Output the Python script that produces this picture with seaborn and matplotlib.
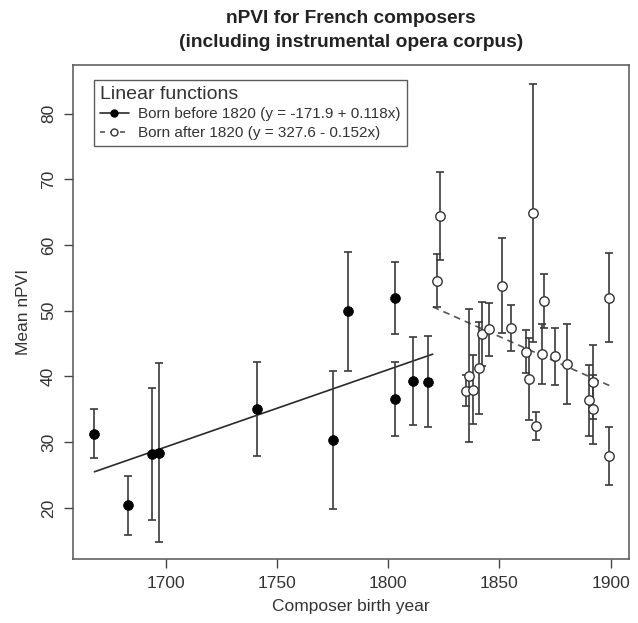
import numpy as np
import matplotlib
matplotlib.use("Agg")
import matplotlib.pyplot as plt
import seaborn as sns
from matplotlib.lines import Line2D

# Composers born before 1820 (mean nPVI and error half-width)
before_year = [1668, 1683, 1694, 1697, 1741, 1775, 1782, 1803, 1803, 1811, 1818]
before_mean = [31.3, 20.4, 28.2, 28.4, 35.0, 30.3, 49.9, 51.9, 36.6, 39.3, 39.2]
before_err = [3.75, 4.5, 10.1, 13.6, 7.15, 10.5, 9.05, 5.5, 5.65, 6.75, 6.95]

# Composers born after 1820
after_year = [1822.0, 1823.2, 1834.9, 1836.2, 1838.0, 1841.0, 1842.0, 1845.1,
              1851.1, 1855.1, 1862.0, 1863.1, 1865.1, 1866.2, 1869.2, 1870.1,
              1875.0, 1880.2, 1890.2, 1892.1, 1892.1, 1899.3, 1899.3]
after_mean = [54.6, 64.4, 37.8, 40.1, 38.0, 41.3, 46.5, 47.15,
              53.8, 47.4, 43.8, 39.6, 64.9, 32.5, 43.4, 51.5,
              43.1, 41.9, 36.35, 39.2, 35.0, 52.0, 27.9]
after_err = [4.0, 6.7, 2.35, 10.1, 5.3, 7.0, 4.9, 4.05,
             7.25, 3.5, 3.3, 6.2, 19.6, 2.1, 4.6, 4.15,
             4.35, 6.1, 5.4, 5.6, 5.2, 6.75, 4.4]

# Fitted lines (end points as drawn)
before_fit_x = [1668, 1820]
before_fit_y = [25.5, 43.4]
after_fit_x = [1820, 1899.5]
after_fit_y = [50.6, 38.6]

legend_labels = ["Born before 1820 (y = -171.9 + 0.118x)",
                 "Born after 1820 (y = 327.6 - 0.152x)"]

sns.set_style("ticks")
plt.rcParams['font.family'] = ['Liberation Sans', 'DejaVu Sans']
plt.rcParams['text.color'] = '#333333'

fig = plt.figure(figsize=(6.38, 6.23), dpi=100)
ax = fig.add_axes([0.1149, 0.1035, 0.871, 0.7922])

ink = '#3a3a3a'

# fit lines
sns.lineplot(x=before_fit_x, y=before_fit_y, ax=ax, color='#2a2a2a', linewidth=1.2, zorder=2)
sns.lineplot(x=after_fit_x, y=after_fit_y, ax=ax, color='#555555', linewidth=1.2,
             linestyle=(0, (4, 3)), zorder=2)

# error bars
ax.errorbar(before_year, before_mean, yerr=before_err, fmt='none', ecolor=ink,
            elinewidth=1.2, capsize=2.6, capthick=1.2, zorder=3)
ax.errorbar(after_year, after_mean, yerr=after_err, fmt='none', ecolor=ink,
            elinewidth=1.2, capsize=2.6, capthick=1.2, zorder=3)

# points
sns.scatterplot(x=before_year, y=before_mean, ax=ax, color='black', s=50,
                edgecolor='black', linewidth=0.5, zorder=4)
sns.scatterplot(x=after_year, y=after_mean, ax=ax, color='white', s=46,
                edgecolor='#333333', linewidth=1.0, zorder=4)

ax.set_xlim(1658.5, 1908.2)
ax.set_ylim(12.3, 87.4)
ax.set_xticks([1700, 1750, 1800, 1850, 1900])
ax.set_yticks([20, 30, 40, 50, 60, 70, 80])
ax.tick_params(axis='both', length=6.5, width=1, color='#444444', labelsize=12.5,
               labelcolor='#333333', pad=6)
for lab in ax.get_yticklabels():
    lab.set_rotation(90)
    lab.set_va('center')
for sp in ax.spines.values():
    sp.set_color('#555555')
    sp.set_linewidth(1.1)

ax.set_xlabel("Composer birth year", fontsize=12.5, color='#333333', labelpad=6)
ax.set_ylabel("Mean nPVI", fontsize=12.5, color='#333333', labelpad=7)
fig.suptitle("nPVI for French composers\n(including instrumental opera corpus)",
             x=0.55, y=0.984, va='top', fontsize=13.8, fontweight='bold',
             color='#222222', linespacing=1.55)

# legend
handles = [
    Line2D([], [], color='#2a2a2a', lw=1.2, marker='o', markersize=5,
           markerfacecolor='black', markeredgecolor='black'),
    Line2D([], [], color='#555555', lw=1.2, linestyle=(0, (3, 3)), marker='o', markersize=5,
           markerfacecolor='white', markeredgecolor='#333333'),
]
leg = ax.legend(handles, legend_labels, title="Linear functions", loc='upper left',
                bbox_to_anchor=(0.037, 0.97), borderaxespad=0, fancybox=False,
                frameon=True, fontsize=11, title_fontsize=14, alignment='left',
                handlelength=1.9, handletextpad=0.6, borderpad=0.4, labelspacing=0.3)
leg.get_frame().set_edgecolor('#333333')
leg.get_frame().set_linewidth(1.0)

fig.savefig("out.png", dpi=100)
